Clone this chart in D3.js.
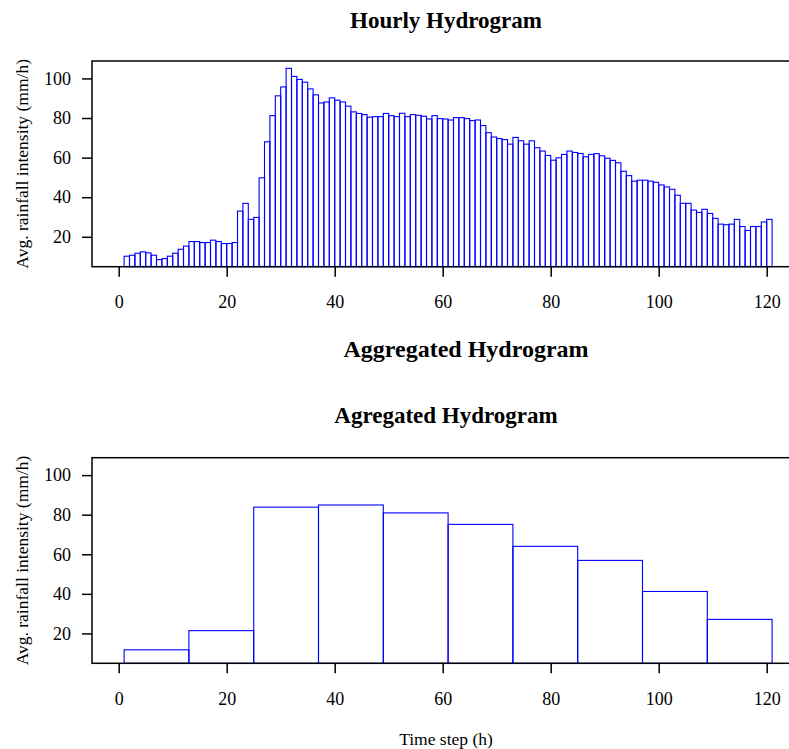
<!DOCTYPE html>
<html lang="en">
<head>
<meta charset="UTF-8">
<title>Hydrograms</title>
<script src="https://d3js.org/d3.v7.min.js"></script>
<style>
    body { margin: 0; background: #fff; }
    svg text { font-family: "Liberation Serif", "Times New Roman", serif; fill: #000; }
</style>
</head>
<body>
<script>
    // hourly average rainfall intensity (mm/h), hours 1..120
    const hourly = [
        10.2, 10.7, 11.7, 12.4, 11.9, 10.7, 8.5, 9.0, 10.2, 11.7,
        13.7, 15.3, 17.6, 17.6, 17.1, 17.1, 18.3, 17.6, 16.6, 16.6,
        17.1, 33.0, 36.9, 28.8, 29.8, 49.8, 68.0, 81.2, 91.2, 95.7,
        105.1, 101.0, 99.5, 98.1, 94.7, 91.7, 87.6, 88.1, 90.2, 89.0,
        88.1, 86.0, 83.1, 82.3, 81.7, 80.4, 80.7, 80.7, 82.3, 81.2,
        80.7, 82.4, 80.7, 81.7, 81.4, 80.9, 79.5, 81.2, 79.7, 79.5,
        79.0, 80.2, 80.2, 79.7, 78.7, 79.0, 76.2, 72.6, 70.4, 69.6,
        69.1, 66.8, 70.2, 68.5, 66.8, 68.5, 65.0, 63.3, 61.1, 58.7,
        59.9, 61.6, 63.3, 62.6, 62.1, 60.4, 61.6, 62.0, 60.9, 59.7,
        58.6, 57.4, 53.1, 50.9, 48.1, 48.6, 48.6, 48.1, 47.5, 46.2,
        45.2, 44.0, 41.0, 36.9, 36.9, 33.5, 32.3, 33.9, 31.8, 29.3,
        26.4, 26.1, 26.4, 28.8, 25.2, 23.2, 25.2, 25.2, 27.5, 28.8
    ];

    // 12-hour aggregated blocks: start hour and mean intensity
    const aggStarts = [1, 13, 25, 37, 49, 61, 73, 85, 97, 109];
    const aggValues = [11.7, 21.4, 83.8, 84.9, 80.9, 75.1, 64.0, 56.9, 41.2, 27.1];
    const aggWidth = 12;

    const xTicks = [0, 20, 40, 60, 80, 100, 120];
    const yTicks = [20, 40, 60, 80, 100];

    const W = 789, H = 749;
    const left = 92, right = 800;

    const svg = d3.select("body").append("svg")
        .attr("width", W)
        .attr("height", H);

    svg.append("rect").attr("width", W).attr("height", H).attr("fill", "#fff");

    const x = d3.scaleLinear().domain([0, 120]).range([118.7, 766.7]);

    function panel(top, bottom, title, titleY, bars) {
        const y = d3.scaleLinear().domain([4.9, 108.8]).range([bottom, top]);
        const g = svg.append("g");

        // bars (outlined, blue)
        g.selectAll("rect.bar")
            .data(bars)
            .enter()
            .append("rect")
            .attr("class", "bar")
            .attr("x", d => x(d.x0))
            .attr("width", d => x(d.x1) - x(d.x0))
            .attr("y", d => y(d.v))
            .attr("height", d => bottom - y(d.v))
            .attr("fill", "none")
            .attr("stroke", "#0000ff")
            .attr("stroke-width", 1.1);

        // box
        g.append("rect")
            .attr("x", left).attr("y", top)
            .attr("width", right - left).attr("height", bottom - top)
            .attr("fill", "none")
            .attr("stroke", "#000")
            .attr("stroke-width", 1.5);

        const xAxis = g.append("g")
            .attr("transform", `translate(0,${bottom})`)
            .call(d3.axisBottom(x).tickValues(xTicks).tickSize(10).tickPadding(19));
        const yAxis = g.append("g")
            .attr("transform", `translate(${left},0)`)
            .call(d3.axisLeft(y).tickValues(yTicks).tickSize(10).tickPadding(11));

        [xAxis, yAxis].forEach(a => {
            a.select(".domain").remove();
            a.selectAll("line").attr("stroke", "#000").attr("stroke-width", 1.5);
            a.selectAll("text")
                .style("font-family", '"Liberation Serif", serif')
                .style("font-size", "18px")
                .attr("fill", "#000");
        });

        // y label
        g.append("text")
            .attr("transform", `translate(27.5,${(top + bottom) / 2}) rotate(-90)`)
            .attr("text-anchor", "middle")
            .style("font-size", "17.5px")
            .text("Avg. rainfall intensity (mm/h)");

        // title
        g.append("text")
            .attr("x", (left + right) / 2)
            .attr("y", titleY)
            .attr("text-anchor", "middle")
            .style("font-size", "23px")
            .style("font-weight", "bold")
            .text(title);
    }

    panel(61, 266.7, "Hourly Hydrogram", 28.3,
        hourly.map((v, i) => ({ x0: i + 1, x1: i + 2, v: v })));

    panel(457.7, 663.3, "Agregated Hydrogram", 423.3,
        aggValues.map((v, i) => ({ x0: aggStarts[i], x1: aggStarts[i] + aggWidth, v: v })));

    // outer title
    svg.append("text")
        .attr("x", 466)
        .attr("y", 356.7)
        .attr("text-anchor", "middle")
        .style("font-size", "24px")
        .style("font-weight", "bold")
        .text("Aggregated Hydrogram");

    // x label
    svg.append("text")
        .attr("x", (left + right) / 2)
        .attr("y", 745)
        .attr("text-anchor", "middle")
        .style("font-size", "17.5px")
        .text("Time step (h)");
</script>
</body>
</html>
